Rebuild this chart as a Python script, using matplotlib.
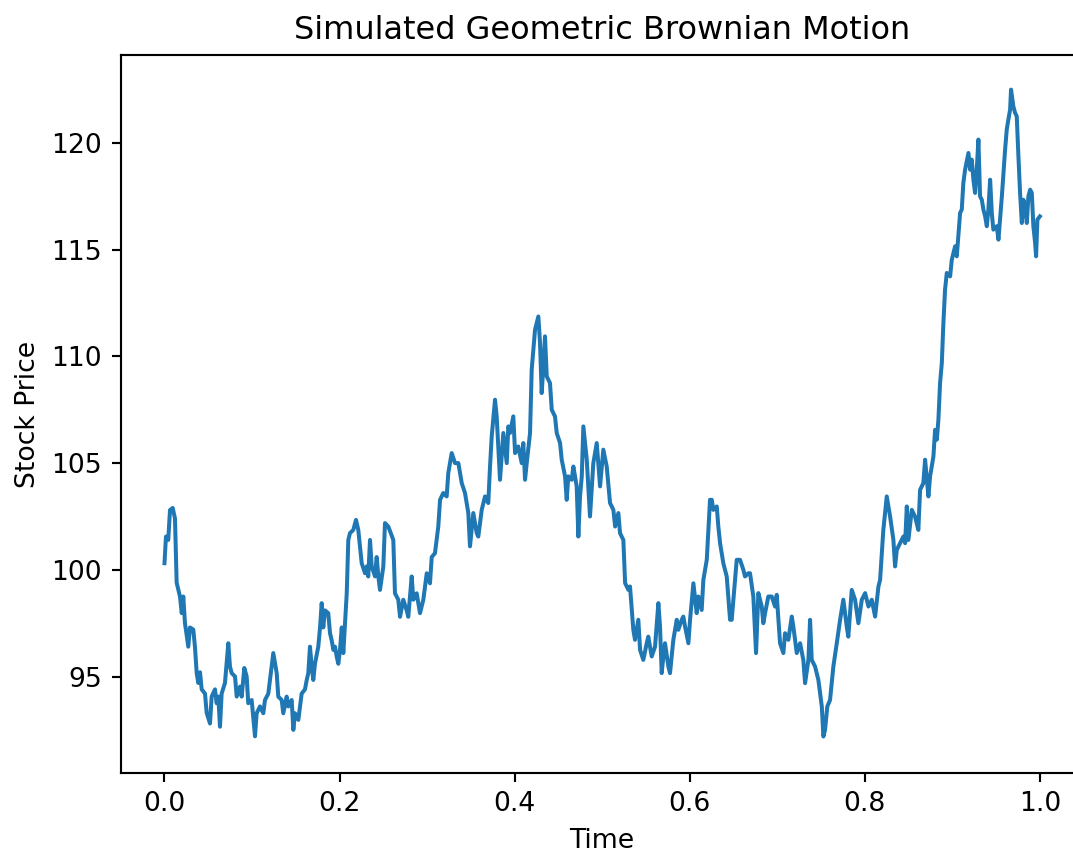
import matplotlib
matplotlib.use('Agg')
import matplotlib.pyplot as plt

# values
time = [0.0, 0.0017, 0.0043, 0.0063, 0.0094, 0.0120, 0.0139, 0.0177, 0.0197, 0.0215,
        0.0234, 0.0272, 0.0291, 0.0329, 0.0348, 0.0368, 0.0386, 0.0406, 0.0425, 0.0463,
        0.0482, 0.0520, 0.0539, 0.0577, 0.0596, 0.0615, 0.0634, 0.0653, 0.0691, 0.0729,
        0.0748, 0.0768, 0.0806, 0.0825, 0.0863, 0.0882, 0.0912, 0.0939, 0.0957, 0.0996,
        0.1034, 0.1053, 0.1091, 0.1129, 0.1148, 0.1186,
        0.1205, 0.1243, 0.1282, 0.1300, 0.1339, 0.1357, 0.1396, 0.1414, 0.1453, 0.1472,
        0.1491, 0.1529, 0.1548, 0.1567, 0.1605, 0.1625, 0.1643, 0.1662, 0.1682, 0.1700,
        0.1719, 0.1757, 0.1777, 0.1796, 0.1814, 0.1834, 0.1871, 0.1891, 0.1910, 0.1929,
        0.1948, 0.1967, 0.1986, 0.2005, 0.2025, 0.2043, 0.2082, 0.2100, 0.2119, 0.2157,
        0.2188, 0.2214, 0.2253, 0.2291, 0.2310, 0.2328, 0.2348, 0.2367, 0.2405, 0.2424,
        0.2443, 0.2462, 0.2500, 0.2519, 0.2557,
        0.2614, 0.2633, 0.2671, 0.2691, 0.2728, 0.2767, 0.2785, 0.2824, 0.2843, 0.2881,
        0.2919, 0.2957, 0.2996, 0.3033, 0.3053, 0.3090, 0.3128, 0.3148, 0.3185, 0.3224,
        0.3242, 0.3281, 0.3319, 0.3357, 0.3396, 0.3433, 0.3471, 0.3490, 0.3528, 0.3567,
        0.3585, 0.3624, 0.3662, 0.3699, 0.3719, 0.3738, 0.3776, 0.3795, 0.3833, 0.3871,
        0.3910, 0.3928,
        0.3947, 0.3985, 0.4005, 0.4042, 0.4081, 0.4099, 0.4119, 0.4138, 0.4176, 0.4195,
        0.4233, 0.4271, 0.4290, 0.4309, 0.4328, 0.4347, 0.4367, 0.4404, 0.4424, 0.4461,
        0.4481, 0.4519, 0.4538, 0.4576, 0.4595, 0.4613, 0.4652, 0.4671, 0.4709, 0.4728,
        0.4747, 0.4767, 0.4785, 0.4824, 0.4861, 0.4899, 0.4938, 0.4976, 0.5013, 0.5052,
        0.5090, 0.5128, 0.5148, 0.5185, 0.5204, 0.5242, 0.5262, 0.5300,
        0.5318, 0.5356, 0.5375, 0.5413, 0.5433, 0.5470, 0.5509, 0.5527, 0.5566, 0.5604,
        0.5642, 0.5661, 0.5680, 0.5699, 0.5718, 0.5756, 0.5775, 0.5813, 0.5852, 0.5870,
        0.5909, 0.5927, 0.5947, 0.5985, 0.6004, 0.6042, 0.6080, 0.6099, 0.6137, 0.6156,
        0.6195, 0.6232, 0.6252, 0.6270, 0.6309, 0.6327, 0.6347, 0.6384, 0.6423, 0.6461,
        0.6480, 0.6518, 0.6537, 0.6575, 0.6613, 0.6632, 0.6670,
        0.6689, 0.6727, 0.6758, 0.6784, 0.6823, 0.6841, 0.6861, 0.6898, 0.6937, 0.6975,
        0.6994, 0.7032, 0.7070, 0.7089, 0.7127, 0.7166, 0.7184, 0.7223, 0.7261, 0.7298,
        0.7318, 0.7356, 0.7375, 0.7394, 0.7432, 0.7470, 0.7509, 0.7527, 0.7546, 0.7572,
        0.7603, 0.7641, 0.7680, 0.7718, 0.7755, 0.7794, 0.7812, 0.7851, 0.7889, 0.7927,
        0.7966, 0.8004, 0.8042, 0.8080, 0.8118, 0.8156,
        0.8175, 0.8212, 0.8251, 0.8289, 0.8327, 0.8346, 0.8366, 0.8403, 0.8441, 0.8461,
        0.8480, 0.8498, 0.8537, 0.8574, 0.8612, 0.8632, 0.8669, 0.8689, 0.8727, 0.8746,
        0.8784, 0.8803, 0.8823, 0.8841, 0.8860, 0.8880, 0.8898, 0.8917, 0.8937,
        0.8975, 0.8994, 0.9032, 0.9051, 0.9069, 0.9089, 0.9108, 0.9126, 0.9146, 0.9184,
        0.9203, 0.9222, 0.9241, 0.9260, 0.9279, 0.9298, 0.9317, 0.9337, 0.9355, 0.9375,
        0.9394, 0.9412, 0.9432, 0.9451, 0.9469, 0.9508, 0.9527, 0.9566, 0.9603, 0.9622,
        0.9640, 0.9660, 0.9671, 0.9697, 0.9717, 0.9736, 0.9755, 0.9774, 0.9794, 0.9812,
        0.9831, 0.9851, 0.9869, 0.9889, 0.9908, 0.9926, 0.9946, 0.9957, 0.9972, 1.0]

price = [100.31, 101.56, 101.40, 102.80, 102.90, 102.40, 99.40, 98.75, 97.97, 98.75,
         97.50, 96.40, 97.30, 97.20, 96.40, 95.16, 94.70, 95.20, 94.40, 94.20,
         93.30, 92.80, 94.06, 94.40, 93.75, 94.06, 92.65, 94.20, 94.70, 96.56,
         95.47, 95.16, 95.00, 94.06, 94.53, 94.06, 95.40, 95.00, 93.75, 93.90,
         92.20, 93.28, 93.60, 93.28, 93.90, 94.20,
         94.84, 96.10, 95.16, 94.06, 93.90, 93.28, 94.06, 93.60, 93.90, 92.50,
         93.28, 92.97, 93.60, 94.20, 94.40, 94.84, 95.16, 96.40, 95.47, 94.84,
         95.60, 96.40, 97.30, 98.44, 97.30, 98.10, 97.97, 97.03, 96.70, 96.25,
         96.40, 95.94, 95.60, 96.25, 97.30, 96.10, 98.90, 101.40, 101.72, 101.87,
         102.34, 101.87, 100.31, 99.84, 100.16, 99.69, 101.40, 100.16, 99.69, 100.60,
         99.69, 99.06, 100.16, 102.19, 102.03,
         101.40, 98.90, 98.60, 97.80, 98.60, 98.10, 97.80, 99.69, 98.60, 98.90,
         97.97, 98.60, 99.84, 99.37, 100.60, 100.78, 102.03, 103.28, 103.60, 103.44,
         104.53, 105.47, 105.00, 105.00, 104.06, 103.60, 102.66, 101.10, 102.66, 101.72,
         101.56, 102.81, 103.44, 103.13, 104.84, 106.25, 107.97, 107.19, 104.22, 106.41,
         105.00, 106.72,
         106.41, 107.19, 105.47, 105.78, 105.00, 105.94, 104.22, 105.00, 106.41, 109.38,
         111.25, 111.87, 110.63, 108.28, 109.53, 110.94, 109.06, 108.75, 107.50, 107.19,
         106.41, 105.94, 105.16, 104.38, 103.28, 104.38, 104.22, 104.84, 103.91, 101.56,
         103.44, 104.38, 106.72, 105.16, 102.50, 105.00, 105.94, 103.91, 105.63, 104.84,
         103.13, 102.81, 102.03, 102.66, 101.72, 101.40, 99.38, 99.06,
         99.22, 97.19, 96.72, 97.66, 96.25, 95.78, 96.56, 96.87, 95.94, 96.40,
         98.44, 97.34, 95.16, 95.94, 96.56, 95.47, 95.16, 96.72, 97.66, 97.19,
         97.66, 97.81, 97.34, 96.56, 97.66, 99.37, 97.97, 98.75, 98.12, 99.53,
         100.47, 103.28, 103.28, 102.81, 102.97, 102.03, 101.25, 100.31, 99.69, 97.66,
         97.66, 99.53, 100.47, 100.47, 100.00, 99.69, 99.84,
         99.84, 98.75, 96.10, 98.91, 98.28, 97.50, 97.97, 98.75, 98.75, 98.28,
         98.83, 96.56, 96.10, 97.03, 96.72, 97.81, 97.34, 96.10, 96.56, 95.78,
         94.69, 95.78, 97.66, 95.78, 95.47, 94.84, 93.60, 92.19, 92.50, 93.60,
         93.90, 95.47, 96.56, 97.66, 98.60, 97.34, 96.87, 99.06, 98.60, 97.50,
         98.60, 98.91, 98.28, 98.60, 97.81, 99.22,
         99.53, 101.87, 103.44, 102.50, 101.40, 100.16, 100.94, 101.25, 101.56, 101.25,
         102.97, 101.40, 102.81, 102.50, 101.87, 103.75, 104.06, 105.16, 103.44, 104.38,
         105.31, 106.56, 106.10, 107.03, 108.75, 109.69, 111.56, 113.13, 113.91,
         113.75, 114.53, 115.16, 114.69, 115.63, 116.72, 116.88, 118.13, 118.75, 119.53,
         118.75, 119.22, 118.28, 117.66, 118.75, 120.16, 117.50, 117.34, 116.88, 116.56,
         116.10, 116.88, 118.28, 116.72, 115.94, 116.10, 115.47, 117.50, 119.69, 120.63,
         121.09, 121.56, 122.50, 121.72, 121.41, 121.25, 119.38, 117.66, 116.25, 117.34,
         117.03, 116.25, 117.50, 117.81, 117.66, 116.10, 115.31, 114.69, 116.41, 116.56]

dpi = 192
fig = plt.figure(figsize=(1073 / dpi, 852 / dpi), dpi=dpi)
# right spine sits past the picture edge in the reference
ax = fig.add_axes([0.1125, 0.0932, 0.8974, 0.8417])

ax.plot(time, price)
ax.set_xlim(-0.05, 1.05)
ax.set_ylim(90.5, 124.1)

ax.set_title('Simulated Geometric Brownian Motion')
ax.set_xlabel('Time')
ax.set_ylabel('Stock Price')

fig.savefig('out.png', dpi=dpi)
